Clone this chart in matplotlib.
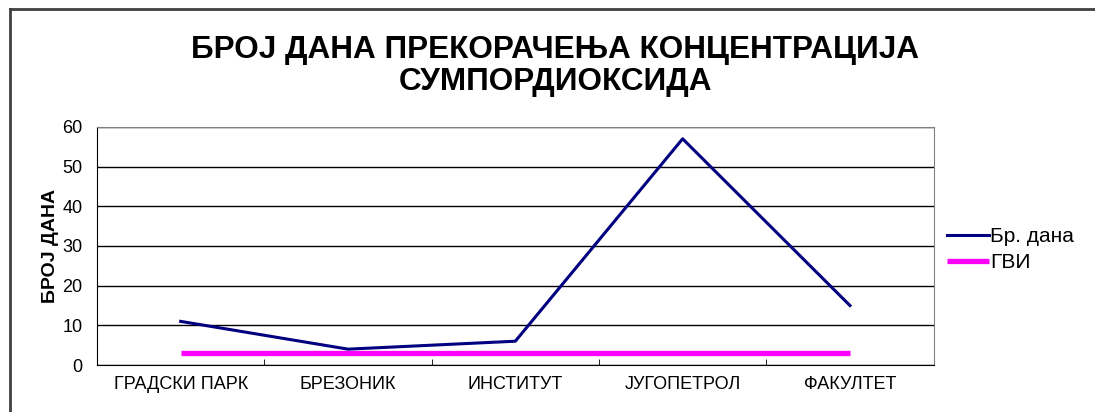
import matplotlib
matplotlib.use("Agg")
import matplotlib.pyplot as plt
from matplotlib.lines import Line2D

plt.rcParams['font.family'] = ['Liberation Sans', 'DejaVu Sans']

stations = ['ГРАДСКИ ПАРК', 'БРЕЗОНИК', 'ИНСТИТУТ', 'ЈУГОПЕТРОЛ', 'ФАКУЛТЕТ']
br_dana = [11, 4, 6, 57, 15]
gvi = [3, 3, 3, 3, 3]

fig = plt.figure(figsize=(10.95, 4.12), dpi=100)
ax = fig.add_axes([0.0886, 0.114, 0.764, 0.578])

x = list(range(len(stations)))
ax.plot(x, br_dana, color='#000080', lw=2.2, label='Бр. дана', zorder=3)
ax.plot(x, gvi, color='#FF00FF', lw=3.8, label='ГВИ', zorder=2, solid_capstyle='butt')

ax.set_xlim(-0.5, len(stations) - 0.5)
ax.set_ylim(0, 60)
ax.set_yticks(range(0, 61, 10))
ax.tick_params(axis='y', length=0, labelsize=13, pad=10.5)
ax.set_xticks(x)
ax.set_xticklabels(stations, fontsize=13)
ax.tick_params(axis='x', length=0, pad=8)
ax.set_xticks([i + 0.5 for i in range(-1, len(stations))], minor=True)
ax.tick_params(axis='x', which='minor', direction='in', length=4, color='black')
ax.yaxis.grid(True, color='black', lw=1)
ax.set_axisbelow(True)
for s in ['left', 'bottom']:
    ax.spines[s].set_color('black')
for s in ['right', 'top']:
    ax.spines[s].set_color('#808080')

ax.set_ylabel('БРОЈ ДАНА', fontsize=14, fontweight='bold', labelpad=2.5)

fig.text(0.507, 0.840, 'БРОЈ ДАНА ПРЕКОРАЧЕЊА КОНЦЕНТРАЦИЈА\nСУМПОРДИОКСИДА',
         ha='center', va='center', fontsize=22.7, fontweight='bold', linespacing=1.07)

ax.legend(loc='center left', bbox_to_anchor=(0.848, 0.394), bbox_transform=fig.transFigure,
          frameon=False, fontsize=15, handlelength=2.0, handletextpad=0.05, labelspacing=0.32)

# outer chart frame (cropped at right and bottom)
fig.add_artist(Line2D([10 / 1095, 1], [1 - 9 / 412, 1 - 9 / 412], transform=fig.transFigure,
                      color='#404040', lw=2))
fig.add_artist(Line2D([10 / 1095, 10 / 1095], [0, 1 - 9 / 412], transform=fig.transFigure,
                      color='#404040', lw=2))

fig.savefig('out.png', dpi=100)
